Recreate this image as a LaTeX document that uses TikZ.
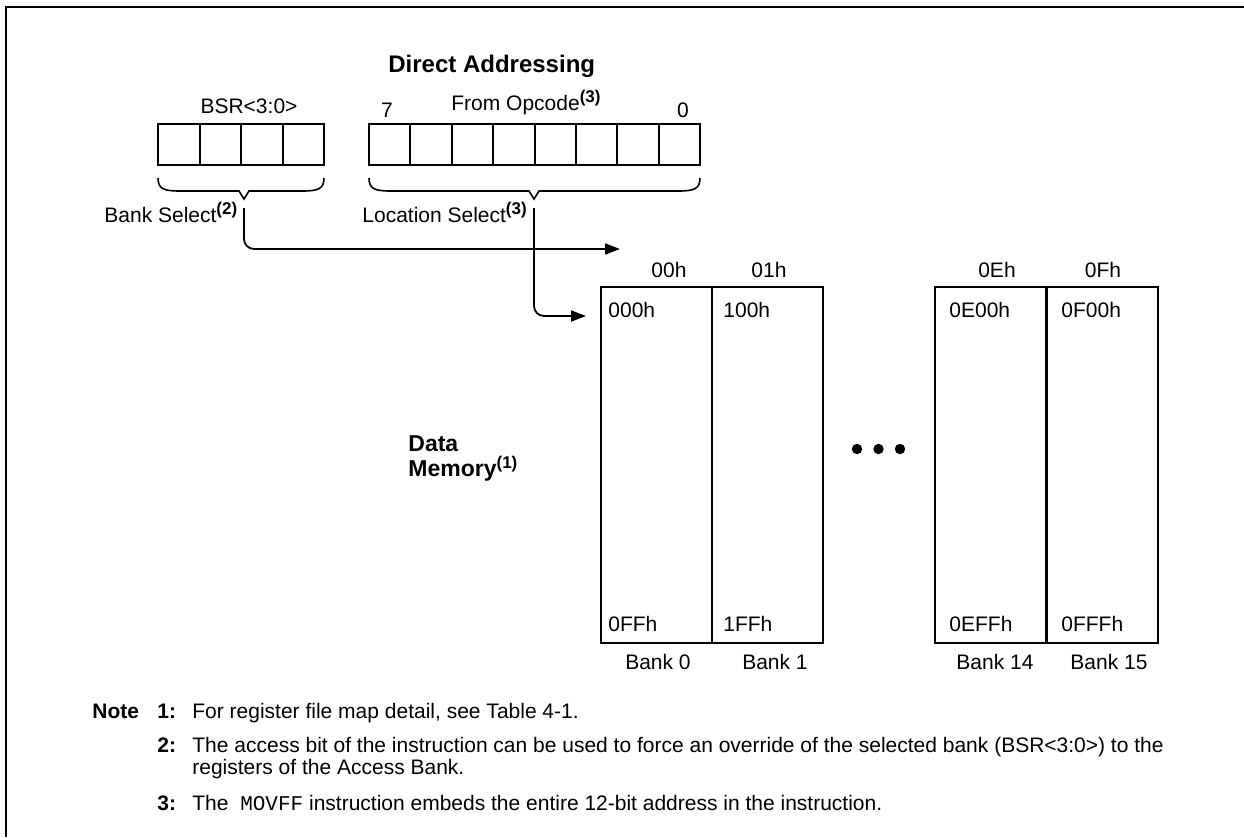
\documentclass[tikz,border=0pt]{standalone}
\usepackage{fontspec}
\setmainfont{Liberation Sans}
\setmonofont{Liberation Mono}
\usetikzlibrary{arrows.meta}
\newcommand\lblfont{\fontsize{10.5}{12.6}\selectfont}
\newcommand\supnum[1]{\textsuperscript{\fontsize{8.5}{9}\selectfont\bfseries #1}}
\tikzset{
  txt/.style={inner sep=0pt, anchor=base west, font=\lblfont},
  ctxt/.style={txt, anchor=base},
  btxt/.style={txt, font=\lblfont\bfseries},
  cell/.style={draw, line width=1pt, minimum width=20.75pt, minimum height=20.5pt, inner sep=0pt},
  bank/.style={draw, line width=1pt, minimum width=55.5pt, minimum height=178pt, inner sep=0pt},
  brc/.style={line width=0.8pt},
  conn/.style={line width=0.9pt, rounded corners=5pt, -{Triangle[length=7.5pt,width=5.5pt]}},
}

\begin{document}
\begin{tikzpicture}[x=0.5pt, y=-0.5pt]
  \useasboundingbox (0,0) rectangle (1244,837);
  \draw[line width=1pt] (6,837) -- (6,7) -- (1244,7);

  \node[txt, font=\fontsize{12}{14}\selectfont\bfseries] (title) at (388,72) {Direct Addressing};

  % bank select and opcode registers
  \foreach \i in {1,...,4}
    \node[cell] (bsr\i) at (158+41.5*\i-20.75,144.5) {};
  \foreach \i in {1,...,8}
    \node[cell] (op\i) at (369+41.4*\i-20.7,144.5) {};
  \node[ctxt] (bsrlbl) at (249,113) {BSR<3:0>};
  \node[ctxt] (msb) at (387,117) {7};
  \node[txt] (opc) at (451,110) {From Opcode\supnum{(3)}};
  \node[ctxt] (lsb) at (683,117) {0};

  % braces
  \foreach \l/\r/\t/\n in {158/324/244/bsrtip, 369/700/534/optip}
  {
    \draw[brc] (\l,178) .. controls (\l,189) and (\l+6,191) .. (\l+22,191) -- (\t-5,191)
      -- (\t,199) -- (\t+5,191) -- (\r-22,191) .. controls (\r-6,191) and (\r,189) .. (\r,178);
    \coordinate (\n) at (\t,208);
  }
  \node[txt] (banksel) at (104,222) {Bank Select\supnum{(2)}};
  \node[txt] (locsel) at (362,222) {Location Select\supnum{(3)}};

  % memory banks
  \foreach \n/\x/\hx/\hd/\lx/\lo/\hi/\bx in {0/656.5/669/00h/608/000h/0FFh/658, 1/767.5/769/01h/723/100h/1FFh/775,
      14/990.5/997/0Eh/949/0E00h/0EFFh/995, 15/1102/1103/0Fh/1061/0F00h/0FFFh/1109}
  {
    \node[bank] (bank\n) at (\x,465) {};
    \node[ctxt] (hd\n) at (\hx,277) {\hd};
    \node[txt] (lo\n) at (\lx,317) {\lo};
    \node[txt] (hi\n) at (\lx,631) {\hi};
    \node[ctxt] (bl\n) at (\bx,669) {Bank \n};
  }
  \foreach \i in {0,1,2}
    \fill (857+21.5*\i,449) circle (2.6pt);
  \node[txt, anchor=north west, align=left, font=\fontsize{11.5}{12.8}\selectfont\bfseries] (datamem)
    at (408,435) {Data\\Memory\supnum{(1)}};

  \coordinate (bankin) at (620,249);
  \coordinate (locin) at (586,316);
  \draw[conn] (bsrtip) |- (bankin);
  \draw[conn] (optip) |- (locin);

  % notes
  \node[btxt] (note) at (92,718) {Note};
  \foreach \k/\y in {1/718, 2/752, 3/810}
    \node[btxt] (n\k) at (157,\y) {\k:};
  \node[txt] (t1) at (192,718) {For register file map detail, see Table 4-1.};
  \node[txt] (t2) at (192,752) {The access bit of the instruction can be used to force an override of the selected bank (BSR<3:0>) to the};
  \node[txt] (t2b) at (192,774) {registers of the Access Bank.};
  \node[txt] (t3) at (192,810) {The\ \ \texttt{MOVFF} instruction embeds the entire 12-bit address in the instruction.};
\end{tikzpicture}
\end{document}
